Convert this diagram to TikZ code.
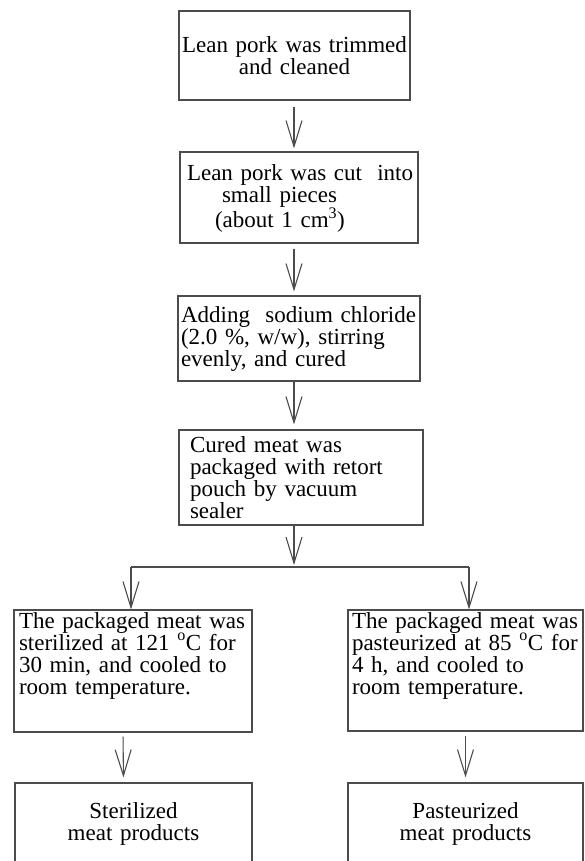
\documentclass[tikz,border=0pt]{standalone}
\usepackage{fontspec}
\setmainfont{Liberation Serif}
\usetikzlibrary{arrows.meta}

\begin{document}
\begin{tikzpicture}[x=1pt,y=-1pt,
    stage/.style={draw=black!70, line width=1.1pt, rectangle, inner xsep=3pt, inner ysep=0pt,
      font={\fontsize{23}{22}\selectfont}},
    link/.style={draw=black!70, line width=1.1pt},
    flow/.style={link, -{Straight Barb[length=26pt,width=16pt]}}]

        \useasboundingbox (0,0) rectangle (584,861);

        \begin{scope}[every node/.style={stage}]
          \node[text width=225pt, align=center, text height=42pt, text depth=47pt] (trim) at (294.5,55.5)
            {Lean pork was trimmed\\and cleaned};
          \node[text width=232pt, align=left, text height=28pt, text depth=63pt] (cut) at (299,197.5)
            {\hspace*{4pt}Lean pork was cut\ \ into\\\hspace*{39pt}small pieces\\\hspace*{32pt}(about 1 cm\textsuperscript{3})};
          \node[text width=236pt, align=left, text height=26pt, text depth=59pt] (salt) at (299,338.5)
            {Adding\ \ sodium chloride\\(2.0 \%, w/w), stirring\\evenly, and cured};
          \node[text width=222pt, inner xsep=11pt, align=left, text height=22pt, text depth=73pt] (pack) at (301,477.5)
            {Cured meat was\\packaged with retort\\pouch by vacuum\\sealer};
          \node[text width=228pt, inner xsep=5pt, align=left, text height=18pt, text depth=104pt] (steril) at (133,671)
            {The packaged meat was\\sterilized at 121 \textsuperscript{o}C for\\30 min, and cooled to\\room temperature.};
          \node[text width=227pt, inner xsep=4pt, align=left, text height=18pt, text depth=103pt] (pasteur) at (465.5,670.5)
            {The packaged meat was\\pasteurized at 85 \textsuperscript{o}C for\\4 h, and cooled to\\room temperature.};
          \node[text width=231pt, align=center, text height=35pt, text depth=48pt] (sterprod) at (133.5,824.5)
            {Sterilized\\meat products};
          \node[text width=229pt, align=center, text height=35pt, text depth=48pt] (pastprod) at (465.5,824.5)
            {Pasteurized\\meat products};
        \end{scope}

        \coordinate (spine)   at (294,0);
        \coordinate (split)   at (294,567);
        \coordinate (lbranch) at (131,567);
        \coordinate (rbranch) at (469,567);

        \draw[flow, shorten <=6pt, shorten >=3pt] (trim.south -| spine) -- (cut.north -| spine);
        \draw[flow, shorten <=5pt, shorten >=4pt] (cut.south -| spine) -- (salt.north -| spine);
        \draw[flow, shorten >=5pt] (salt.south -| spine) -- (pack.north -| spine);
        \draw[flow, shorten >=2pt] (pack.south -| spine) -- (split);
        \draw[link] (lbranch) -- (rbranch);
        \draw[flow] (lbranch) -- (lbranch |- steril.north);
        \draw[flow] (rbranch) -- (rbranch |- pasteur.north);
        \draw[flow, shorten <=4pt, shorten >=5pt] ([xshift=-10pt]steril.south) -- ([xshift=-10pt]sterprod.north);
        \draw[flow, shorten <=4pt, shorten >=5pt] (pasteur.south) -- (pastprod.north);

      \end{tikzpicture}
\end{document}
